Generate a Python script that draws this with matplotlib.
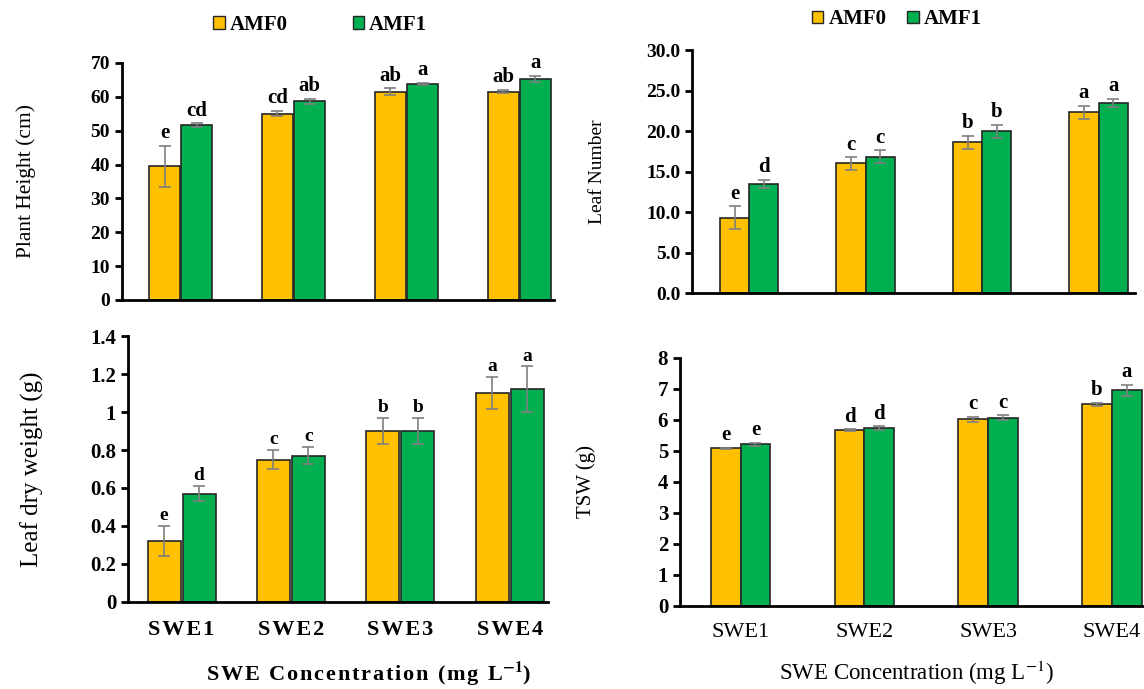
import numpy as np
import matplotlib
matplotlib.use('Agg')
import matplotlib.pyplot as plt
from matplotlib.patches import Patch

plt.rcParams['font.family'] = ['Liberation Serif', 'DejaVu Serif']
plt.rcParams['mathtext.fontset'] = 'stix'

categories = ['SWE1', 'SWE2', 'SWE3', 'SWE4']
series_names = ['AMF0', 'AMF1']

height_amf0 = [39.5, 55.0, 61.5, 61.5]
height_amf0_err = [6.0, 0.8, 1.0, 0.5]
height_amf1 = [51.7, 58.7, 63.8, 65.3]
height_amf1_err = [0.5, 0.7, 0.3, 0.8]
height_letters0 = ['e', 'cd', 'ab', 'ab']
height_letters1 = ['cd', 'ab', 'a', 'a']

leaves_amf0 = [9.3, 16.0, 18.6, 22.3]
leaves_amf0_err = [1.4, 0.8, 0.8, 0.8]
leaves_amf1 = [13.5, 16.8, 20.0, 23.5]
leaves_amf1_err = [0.5, 0.8, 0.8, 0.5]
leaves_letters0 = ['e', 'c', 'b', 'a']
leaves_letters1 = ['d', 'c', 'b', 'a']

ldw_amf0 = [0.32, 0.75, 0.90, 1.10]
ldw_amf0_err = [0.08, 0.05, 0.07, 0.085]
ldw_amf1 = [0.57, 0.77, 0.90, 1.12]
ldw_amf1_err = [0.04, 0.045, 0.07, 0.12]
ldw_letters0 = ['e', 'c', 'b', 'a']
ldw_letters1 = ['d', 'c', 'b', 'a']

tsw_amf0 = [5.08, 5.67, 6.02, 6.50]
tsw_amf0_err = [0.03, 0.03, 0.08, 0.05]
tsw_amf1 = [5.22, 5.73, 6.07, 6.95]
tsw_amf1_err = [0.05, 0.07, 0.08, 0.18]
tsw_letters0 = ['e', 'd', 'c', 'b']
tsw_letters1 = ['e', 'd', 'c', 'a']

YELLOW = '#FFC000'
GREEN = '#00B050'
EDGE = '#262626'
ERR = '#7f7f7f'
HAIR = '\u200a'


def draw_panel(ax, v0, e0, v1, e1, l0, l1, width, gap, ymax, yticks, yfmt,
               xlim, ylabel, ylabel_size, tick_size, letter_size, letter_off):
    x = np.arange(len(categories))
    ax.bar(x - width / 2 - gap / 2, v0, width, color=YELLOW, edgecolor=EDGE, linewidth=1.2,
           yerr=e0, error_kw=dict(ecolor=ERR, elinewidth=1.2, capsize=4, capthick=1.2))
    ax.bar(x + width / 2 + gap / 2, v1, width, color=GREEN, edgecolor=EDGE, linewidth=1.2,
           yerr=e1, error_kw=dict(ecolor=ERR, elinewidth=1.2, capsize=4, capthick=1.2))
    for i in range(len(categories)):
        ax.text(x[i] - width / 2 - gap / 2, v0[i] + e0[i] + letter_off, l0[i], ha='center',
                va='bottom', fontsize=letter_size, fontweight='bold')
        ax.text(x[i] + width / 2 + gap / 2, v1[i] + e1[i] + letter_off, l1[i], ha='center',
                va='bottom', fontsize=letter_size, fontweight='bold')
    ax.set_xlim(*xlim)
    ax.set_ylim(0, ymax)
    ax.set_yticks(yticks)
    ax.set_yticklabels([yfmt.format(t) for t in yticks], fontsize=tick_size, fontweight='bold')
    ax.spines['top'].set_visible(False)
    ax.spines['right'].set_visible(False)
    ax.spines['left'].set_linewidth(2)
    ax.spines['bottom'].set_linewidth(2)
    ax.tick_params(axis='y', length=5, width=2, direction='out')
    ax.set_ylabel(ylabel, fontsize=ylabel_size)


fig = plt.figure(figsize=(11.44, 6.89), dpi=100)

# top left: plant height
ax1 = fig.add_axes([0.1066, 0.5646, 0.378, 0.344])
draw_panel(ax1, height_amf0, height_amf0_err, height_amf1, height_amf1_err,
           height_letters0, height_letters1, 0.275, 0.01, 70, np.arange(0, 71, 10), '{:.0f}',
           (-0.52, 3.31), 'Plant Height (cm)', 15.5, 14, 15, 0.8)
ax1.set_xticks([])
ax1.yaxis.set_label_coords(-0.198, 0.5)

# top right: leaf number
ax2 = fig.add_axes([0.6049, 0.5747, 0.387, 0.3527])
draw_panel(ax2, leaves_amf0, leaves_amf0_err, leaves_amf1, leaves_amf1_err,
           leaves_letters0, leaves_letters1, 0.25, 0.0, 30, np.arange(0, 31, 5), '{:.1f}',
           (-0.49, 3.31), 'Leaf Number', 14, 14, 15, 0.3)
ax2.set_xticks([])
ax2.yaxis.set_label_coords(-0.195, 0.5)

# bottom left: leaf dry weight
ax3 = fig.add_axes([0.1119, 0.1263, 0.3671, 0.386])
draw_panel(ax3, ldw_amf0, ldw_amf0_err, ldw_amf1, ldw_amf1_err,
           ldw_letters0, ldw_letters1, 0.3, 0.02, 1.4, np.round(np.arange(0, 1.41, 0.2), 1),
           '{:g}', (-0.49, 3.35), 'Leaf dry weight (g)', 18, 15, 14, 0.01)
ax3.set_xticks(np.arange(len(categories)))
ax3.set_xticklabels([HAIR.join(c) for c in categories], fontsize=16, fontweight='bold')
ax3.tick_params(axis='x', length=0, pad=13)
ax3.yaxis.set_label_coords(-0.2, 0.5)

# bottom right: thousand seed weight
ax4 = fig.add_axes([0.5944, 0.1205, 0.4056, 0.36])
draw_panel(ax4, tsw_amf0, tsw_amf0_err, tsw_amf1, tsw_amf1_err,
           tsw_letters0, tsw_letters1, 0.24, 0.0, 8, np.arange(0, 9, 1), '{:.0f}',
           (-0.49, 3.26), 'TSW (g)', 15, 15, 15, 0.08)
ax4.set_xticks(np.arange(len(categories)))
ax4.set_xticklabels(categories, fontsize=16)
ax4.tick_params(axis='x', length=0, pad=12)
ax4.yaxis.set_label_coords(-0.18, 0.5)

fig.text(0.3226, 0.022, HAIR.join('SWE Concentration (mg L') + '$^{\\mathbf{-1}}$)',
         ha='center', va='center', fontsize=16, fontweight='bold')
fig.text(0.8007, 0.024, 'SWE Concentration (mg L$^{-1}$)', ha='center', va='center',
         fontsize=16.5)

handles = [Patch(facecolor=YELLOW, edgecolor=EDGE), Patch(facecolor=GREEN, edgecolor=EDGE)]
fig.legend(handles, series_names, loc='center', bbox_to_anchor=(0.28, 0.964), ncol=2,
           frameon=False, prop={'weight': 'bold', 'size': 15}, handlelength=0.55,
           handleheight=0.55, handletextpad=0.25, columnspacing=3.1)
fig.legend(handles, series_names, loc='center', bbox_to_anchor=(0.784, 0.972), ncol=2,
           frameon=False, prop={'weight': 'bold', 'size': 15}, handlelength=0.55,
           handleheight=0.55, handletextpad=0.25, columnspacing=1.0)

fig.savefig('out.png', dpi=100)
